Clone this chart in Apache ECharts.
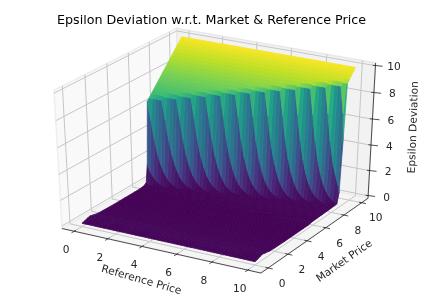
<!DOCTYPE html>
<html>
<head>
<meta charset="utf-8">
<style>html,body{margin:0;padding:0;background:#fff}#c{width:423px;height:299px}</style>
<script src="https://cdn.jsdelivr.net/npm/echarts@6/dist/echarts.min.js"></script>
</head>
<body>
<div id="c"></div>
<script>
// ---- values ----
var titleText = 'Epsilon Deviation w.r.t. Market & Reference Price';
var xName = 'Reference Price', yName = 'Market Price', zName = 'Epsilon Deviation';
var xTicks = [0, 2, 4, 6, 8, 10];
var yTicks = [0, 2, 4, 6, 8, 10];
var zTicks = [0, 2, 4, 6, 8, 10];
// reference-price samples
var referencePrice = [0,.1875,.375,.5625,.75,.9375,1.125,1.3125,1.5,1.6875,1.875,2.0625,2.25,2.4375,2.625,2.8125,3,3.1875,3.375,3.5625,3.75,3.9375,4.125,4.3125,4.5,4.6875,4.875,5.0625,5.25,5.4375,5.625,5.8125,6,6.1875,6.375,6.5625,6.75,6.9375,7.125,7.3125,7.5,7.6875,7.875,8.0625,8.25,8.4375,8.625,8.8125,9,9.1875,9.375,9.5625,9.75,9.9375,10];
// market-price samples
var marketPrice = [0,.25,.5,.75,1,1.5,2,3,4,5,5.5,6,6.2,6.35,6.51,6.7,6.89,7.08,7.27,7.46,7.65,7.84,8.03,8.22,8.41,8.6,8.79,8.98,9.17,9.36,9.55,9.7,9.85,10];
// height of the low floor for the rows well in front of the wall
var floorDeviation = [.06,.12,.2,.25,.2,.1,.08,.06,.06,.06,.06];
// first referencePrice sample at which each wall row starts to fall
var wallRowFallStart = [-12,-8,-4,0,4,8,12,16,20,24,28,32,36,40,44,48,52];
// share of the full height left on a wall row, per sample after the fall starts
var fallShare = [1,.78,.55,.38,.26,.17,.11,.07,.045,.03,.02];
var viridis = ['#440154','#482475','#414487','#355f8d','#2a788e','#21918c','#22a884','#44bf70','#7ad151','#bddf26','#fde725'];

// ---- surface table ----
var floorRows = floorDeviation.length;
var deviation = marketPrice.map(function (y, r) {
  return referencePrice.map(function (x, c) {
    if (r < floorRows) return floorDeviation[r];
    var start = wallRowFallStart[r - floorRows];
    if (start === undefined || c < start) return y;
    return y * fallShare[Math.min(c - start, fallShare.length - 1)];
  });
});

// ---- 3D view (elevation 30, azimuth -60, distance 10) ----
var xLim = [-0.73, 10.73], yLim = [-0.73, 10.73], zLim = [-0.2, 10.2];
var view = { sx: 2295, sy: 1578, tx: 217.4, ty: 146.5, dist: 10 };
function world(p) {
  return [(p[0] - xLim[0]) / (xLim[1] - xLim[0]) - .5,
          (p[1] - yLim[0]) / (yLim[1] - yLim[0]) - .5,
          (p[2] - zLim[0]) / (zLim[1] - zLim[0]) - .5];
}
function depth(p) { var q = world(p); return .4330127 * q[0] - .75 * q[1] + .5 * q[2]; }
function project(p) {
  var q = world(p);
  var a = .8660254 * q[0] + .5 * q[1];
  var b = -.25 * q[0] + .4330127 * q[1] + .8660254 * q[2];
  var k = 1 / (view.dist - depth(p));
  return [view.tx + view.sx * a * k, view.ty - view.sy * b * k];
}
function hexRgb(h) { return [parseInt(h.substr(1, 2), 16), parseInt(h.substr(3, 2), 16), parseInt(h.substr(5, 2), 16)]; }
function colorOf(z) {
  var t = Math.max(0, Math.min(.9999, z / 10)) * (viridis.length - 1), i = Math.floor(t), f = t - i;
  var a = hexRgb(viridis[i]), b = hexRgb(viridis[i + 1]);
  return 'rgb(' + [0, 1, 2].map(function (k) { return Math.round(a[k] + (b[k] - a[k]) * f); }).join(',') + ')';
}

// ---- facets, far ones first ----
function rowMean(c, r) {
  return (deviation[r][c] + deviation[r][c + 1] + deviation[r + 1][c] + deviation[r + 1][c + 1]) / 4;
}
var facets = [];
for (var r = 0; r < marketPrice.length - 1; r++) {
  for (var c = 0; c < referencePrice.length - 1; c++) {
    var corners = [[c, r], [c + 1, r], [c + 1, r + 1], [c, r + 1]].map(function (ij) {
      return [referencePrice[ij[0]], marketPrice[ij[1]], deviation[ij[1]][ij[0]]];
    });
    var d = 0;
    corners.forEach(function (p) { d += depth(p) / 4; });
    // colour is taken from the facet together with the one in front of it
    var tone = (2 * rowMean(c, r) + rowMean(c, Math.max(0, r - 1))) / 3;
    facets.push({ value: [c, r], d: d, z: tone, corners: corners });
  }
}
facets.sort(function (a, b) { return a.d - b.d; });

var font = '"DejaVu Sans"';
var chart = echarts.init(document.getElementById('c'), null, { renderer: 'canvas' });

function toPx(api, p) { return api.coord(project(p)); }
function seg(api, a, b, color, w) {
  var A = toPx(api, a), B = toPx(api, b);
  return { type: 'line', shape: { x1: A[0], y1: A[1], x2: B[0], y2: B[1] }, style: { stroke: color, lineWidth: w, fill: null } };
}
function poly(api, pts, fill, stroke, w) {
  return { type: 'polygon', shape: { points: pts.map(function (p) { return toPx(api, p); }) }, style: { fill: fill, stroke: stroke, lineWidth: w } };
}
function label(api, p, dx, dy, text, size, rot) {
  var A = toPx(api, p);
  return { type: 'text', x: A[0] + dx, y: A[1] + dy, rotation: (rot || 0) * Math.PI / 180,
    style: { text: text, fill: '#262626', font: size + 'px ' + font, align: 'center', verticalAlign: 'middle' } };
}

function renderBox(params, api) {
  var x0 = xLim[0], x1 = xLim[1], y0 = yLim[0], y1 = yLim[1], z0 = zLim[0], z1 = zLim[1], kids = [];
  kids.push(poly(api, [[x0, y0, z0], [x0, y1, z0], [x0, y1, z1], [x0, y0, z1]], '#f9f9f9', '#eeeeee', 1.5));
  kids.push(poly(api, [[x0, y1, z0], [x1, y1, z0], [x1, y1, z1], [x0, y1, z1]], '#f2f2f2', '#e8e8e8', 1.5));
  kids.push(poly(api, [[x0, y0, z0], [x1, y0, z0], [x1, y1, z0], [x0, y1, z0]], '#f5f5f5', '#eeeeee', 1.5));
  var g = '#c6c6c6';
  xTicks.forEach(function (t) { kids.push(seg(api, [t, y0, z0], [t, y1, z0], g, 1), seg(api, [t, y1, z0], [t, y1, z1], g, 1)); });
  yTicks.forEach(function (t) { kids.push(seg(api, [x0, t, z0], [x1, t, z0], g, 1), seg(api, [x0, t, z0], [x0, t, z1], g, 1)); });
  zTicks.forEach(function (t) { kids.push(seg(api, [x0, y0, t], [x0, y1, t], g, 1), seg(api, [x0, y1, t], [x1, y1, t], g, 1)); });
  return { type: 'group', children: kids };
}
function renderFacet(params, api) {
  var f = facets[params.dataIndex], col = colorOf(f.z);
  return poly(api, f.corners, col, col, .8);
}
function renderAxes(params, api) {
  var x0 = xLim[0], x1 = xLim[1], y0 = yLim[0], y1 = yLim[1], z0 = zLim[0], z1 = zLim[1], k = '#222222', kids = [];
  kids.push(seg(api, [x0, y0, z0], [x1, y0, z0], k, .8), seg(api, [x1, y0, z0], [x1, y1, z0], k, .8), seg(api, [x1, y1, z0], [x1, y1, z1], k, .8));
  xTicks.forEach(function (t) {
    kids.push(seg(api, [t, y0 + .15, z0], [t, y0 - .25, z0], k, .8));
    kids.push(label(api, [t, y0, z0], -8, 19, String(t), 10.6));
  });
  yTicks.forEach(function (t) {
    kids.push(seg(api, [x1 - .15, t, z0], [x1 + .25, t, z0], k, .8));
    kids.push(label(api, [x1, t, z0], 14, 16, String(t), 10.6));
  });
  zTicks.forEach(function (t) {
    kids.push(seg(api, [x1 - .15, y1, t], [x1 + .35, y1 + .1, t], k, .8));
    kids.push(label(api, [x1, y1, t], 18.5, 2, String(t), 10.6));
  });
  var lx = label(api, [5, y0, z0], -18, 30, xName, 10.6, -16);
  var ly = label(api, [x1, 5, z0], 28, 27, yName, 10.6, 35);
  var lz = label(api, [x1, y1, 5], 42, -5, zName, 10.6, 88);
  kids.push(lx, ly, lz);
  return { type: 'group', children: kids };
}

chart.setOption({
  animation: false,
  backgroundColor: '#ffffff',
  title: { text: titleText, left: 'center', top: 9, textStyle: { fontFamily: font, fontSize: 12.7, fontWeight: 'normal', color: '#000' } },
  grid: { left: 0, right: 0, top: 0, bottom: 0 },
  xAxis: { type: 'value', min: 0, max: 423, show: false },
  yAxis: { type: 'value', min: 0, max: 299, inverse: true, show: false },
  series: [
    { type: 'custom', coordinateSystem: 'cartesian2d', clip: false, silent: true, renderItem: renderBox, data: [[0, 0]] },
    { type: 'custom', coordinateSystem: 'cartesian2d', clip: false, silent: true, progressive: 0, renderItem: renderFacet,
      data: facets.map(function (f) { return f.value; }) },
    { type: 'custom', coordinateSystem: 'cartesian2d', clip: false, silent: true, renderItem: renderAxes, data: [[0, 0]] }
  ]
});
</script>
</body>
</html>
